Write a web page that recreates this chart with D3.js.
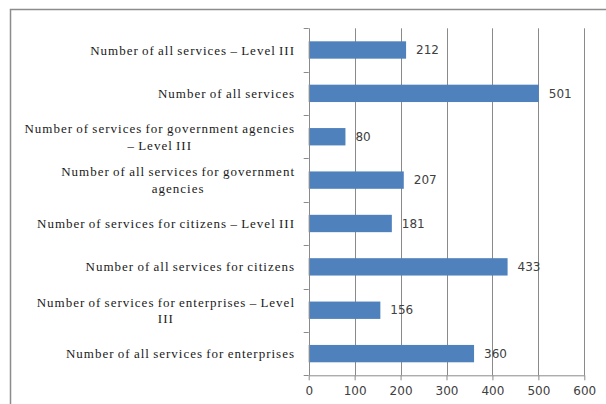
<!DOCTYPE html>
<html><head><meta charset="utf-8">
<script src="https://cdn.jsdelivr.net/npm/d3@7"></script>
<style>body{margin:0;background:#fff;}svg{display:block;}</style>
</head><body>
<svg id="c" width="606" height="404"></svg>
<script>
const categories = [
  ["Number of all services – Level III"],
  ["Number of all services"],
  ["Number of services for government agencies", "– Level III"],
  ["Number of all services for government", "agencies"],
  ["Number of services for citizens – Level III"],
  ["Number of all services for citizens"],
  ["Number of services for enterprises – Level", "III"],
  ["Number of all services for enterprises"]
];
const values = [212, 501, 80, 207, 181, 433, 156, 360];
const xTicks = [0, 100, 200, 300, 400, 500, 600];

const svg = d3.select("#c");
const m = {left: 308.7, right: 584.3, top: 28.3, bottom: 375.3};

svg.append("rect").attr("x", 10.5).attr("y", 9.5).attr("width", 620).attr("height", 420)
  .attr("fill", "none").attr("stroke", "#8c8c8c").attr("stroke-width", 1.5);

const x = d3.scaleLinear().domain([0, 600]).range([m.left, m.right]);
const y = d3.scaleBand().domain(d3.range(categories.length)).range([m.top, m.bottom]).paddingInner(0.6).paddingOuter(0.3);
const yb = d3.scaleBand().domain(d3.range(categories.length)).range([m.top, m.bottom]);

svg.append("g").selectAll("line").data(xTicks.slice(1)).join("line")
  .attr("x1", d => Math.round(x(d)) + 0.5).attr("x2", d => Math.round(x(d)) + 0.5)
  .attr("y1", m.top).attr("y2", m.bottom)
  .attr("stroke", "#8a8a8a").attr("stroke-width", 1);

svg.append("g").selectAll("rect").data(values).join("rect")
  .attr("x", x(0)).attr("y", (d, i) => y(i))
  .attr("width", d => x(d) - x(0)).attr("height", y.bandwidth())
  .attr("fill", "#4f81bd");

const xa = svg.append("g").attr("transform", `translate(0,${m.bottom})`)
  .call(d3.axisBottom(x).tickValues(xTicks).tickSize(5).tickSizeOuter(0));
xa.select(".domain").attr("stroke", "#8a8a8a");
xa.selectAll(".tick line").attr("stroke", "#8a8a8a");
xa.selectAll("text").attr("font-family", "DejaVu Sans").attr("font-size", 12).attr("fill", "#404040").attr("dy", "0.95em");

svg.append("line").attr("x1", Math.round(m.left) + 0.5).attr("x2", Math.round(m.left) + 0.5)
  .attr("y1", m.top).attr("y2", m.bottom).attr("stroke", "#8a8a8a");
svg.append("g").selectAll("line").data(d3.range(categories.length + 1)).join("line")
  .attr("x1", m.left - 5).attr("x2", m.left)
  .attr("y1", i => Math.round(m.top + i * yb.bandwidth()) + 0.5)
  .attr("y2", i => Math.round(m.top + i * yb.bandwidth()) + 0.5)
  .attr("stroke", "#8a8a8a");

svg.append("g").selectAll("text").data(values).join("text")
  .attr("x", d => x(d) + 10).attr("y", (d, i) => y(i) + y.bandwidth() / 2)
  .attr("dy", "0.35em")
  .attr("font-family", "DejaVu Sans").attr("font-size", 12).attr("fill", "#404040")
  .text(d => d);

const lineH = 16.5;
const rightEdge = 295;
categories.forEach((lines, i) => {
  const cy = yb(i) + yb.bandwidth() / 2;
  const g = svg.append("g");
  const texts = lines.map((t, j) => g.append("text")
    .attr("y", cy + (j - (lines.length - 1) / 2) * lineH)
    .attr("dy", "0.35em")
    .attr("text-anchor", "middle")
    .style("font-family", "'Liberation Serif', serif").style("font-size", "13px")
    .style("letter-spacing", "1px").style("word-spacing", "-1px")
    .attr("fill", "#1a1a1a").text(t));
  const w = d3.max(texts, t => t.node().getComputedTextLength());
  texts.forEach(t => t.attr("x", rightEdge - w / 2));
});
</script>
</body></html>
